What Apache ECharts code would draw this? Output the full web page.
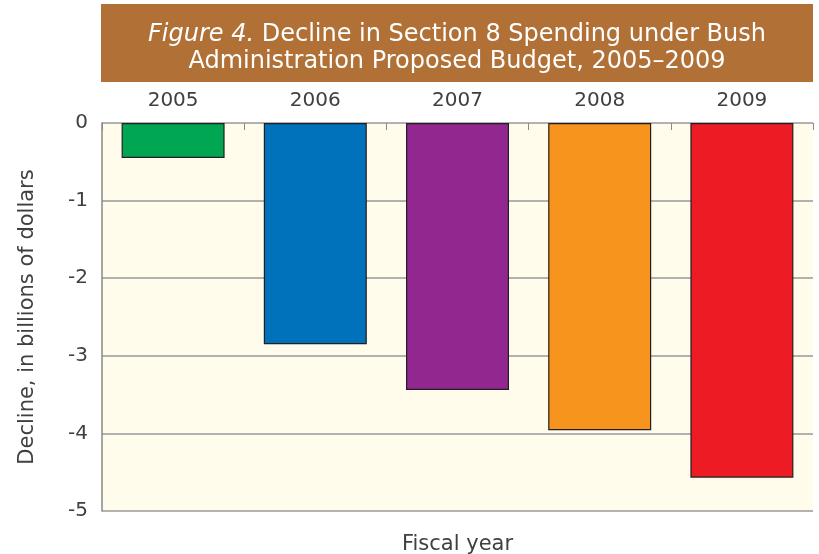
<!DOCTYPE html>
<html>
<head>
<meta charset="utf-8">
<script src="https://cdn.jsdelivr.net/npm/echarts@6/dist/echarts.min.js"></script>
<style>
  html, body { margin: 0; padding: 0; background: #ffffff; }
  #chart { width: 819px; height: 554px; }
</style>
</head>
<body>
<div id="chart"></div>
<script>
// Fiscal years and decline in Section 8 spending (billions of dollars)
const years = ['2005', '2006', '2007', '2008', '2009'];
const decline = [-0.45, -2.85, -3.44, -3.96, -4.57];
const barColors = ['#00A651', '#0072BC', '#92278F', '#F7941D', '#ED1C24'];

const FONT = '"DejaVu Sans", "Open Sans", sans-serif';
const TEXT = '#404040';
const chart = echarts.init(document.getElementById('chart'));

chart.setOption({
  backgroundColor: '#ffffff',
  animation: false,
  graphic: [
    {
      type: 'rect',
      shape: { x: 101, y: 4, width: 712, height: 78 },
      style: { fill: '#B07036' },
      z: 0
    }
  ],
  title: {
    text: '{i|Figure 4.} Decline in Section 8 Spending under Bush\nAdministration Proposed Budget, 2005–2009',
    left: 452,
    top: 16,
    textAlign: 'center',
    textStyle: {
      color: '#ffffff',
      fontFamily: FONT,
      fontSize: 24,
      fontWeight: 'normal',
      lineHeight: 27,
      rich: {
        i: { fontStyle: 'italic', color: '#ffffff', fontFamily: FONT, fontSize: 24, lineHeight: 27 }
      }
    }
  },
  grid: {
    left: 102,
    right: 6,
    top: 123,
    bottom: 43,
    outerBoundsMode: 'none',
    containLabel: false,
    show: true,
    backgroundColor: '#FFFCEC',
    borderWidth: 0
  },
  xAxis: {
    type: 'category',
    data: years,
    position: 'top',
    name: 'Fiscal year',
    nameLocation: 'middle',
    nameGap: -432,
    nameTextStyle: { color: TEXT, fontFamily: FONT, fontSize: 21 },
    axisLine: { show: false },
    axisTick: { show: true, inside: true, length: 7, lineStyle: { color: '#888888' } },
    axisLabel: { color: TEXT, fontFamily: FONT, fontSize: 20, margin: 12 }
  },
  yAxis: {
    type: 'value',
    min: -5,
    max: 0,
    interval: 1,
    name: 'Decline, in billions of dollars',
    nameLocation: 'middle',
    nameGap: 64,
    nameTextStyle: { color: TEXT, fontFamily: FONT, fontSize: 21 },
    axisLine: { show: true, lineStyle: { color: '#888888', width: 1.5 } },
    axisTick: { show: false },
    axisLabel: {
      color: TEXT, fontFamily: FONT, fontSize: 20, margin: 14,
      formatter: v => String(v)
    },
    splitLine: { show: true, lineStyle: { color: '#999999', width: 1.5 } }
  },
  series: [
    {
      type: 'bar',
      data: decline.map((v, i) => ({ value: v, itemStyle: { color: barColors[i] } })),
      barWidth: 103,
      itemStyle: { borderColor: '#231F20', borderWidth: 1.2 },
      z: 3
    }
  ]
});
</script>
</body>
</html>
